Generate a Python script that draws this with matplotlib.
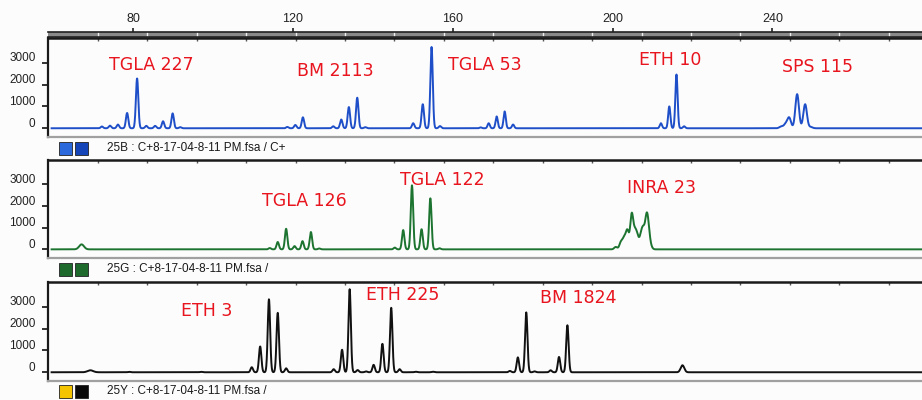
import numpy as np
import matplotlib
matplotlib.use("Agg")
import matplotlib.pyplot as plt
from matplotlib.patches import Rectangle
from matplotlib.transforms import ScaledTranslation

W, H = 922, 400

# x positions (bp) of the ruler labels
ruler_ticks = [80, 120, 160, 200, 240]
y_ticks = [0, 1000, 2000, 3000]

# blue dye (25B): peak sizes, heights, widths
blue_pos = [72.2, 74.2, 76.2, 78.5, 81.0, 83.3, 85.5, 87.5, 89.9, 91.8,
            118.6, 120.6, 122.5, 130.1, 132.1, 134.0, 136.1, 138.1,
            150.1, 152.5, 154.7, 156.8,
            167.0, 169.0, 171.0, 173.0, 175.1,
            212.1, 214.2, 216.0, 217.9,
            242.2, 243.3, 244.2, 246.2, 248.2, 249.6]
blue_h = [80, 120, 170, 700, 2280, 110, 110, 320, 680, 50,
          60, 150, 500, 90, 400, 970, 1400, 50,
          230, 1100, 3720, 100,
          40, 230, 540, 770, 170,
          230, 1000, 2460, 90,
          80, 180, 480, 1560, 1100, 60]
blue_w = [0.3] * 22 + [0.28] * 9 + [0.45] * 6

# green dye (25G)
green_pos = [67.1,
             114.2, 116.2, 118.3, 120.4, 122.4, 124.5, 126.6,
             145.5, 147.6, 149.8, 152.2, 154.4, 156.7,
             200.8, 202.1, 202.9, 203.7, 204.8, 205.6, 206.2, 207.1, 207.7,
             208.5, 209.0, 209.6]
green_h = [230,
           60, 340, 950, 150, 380, 800, 40,
           80, 890, 2960, 930, 2360, 50,
           110, 330, 500, 850, 1600, 700, 520, 560, 800,
           1300, 700, 100]
green_w = [0.6] + [0.3] * 13 + [0.38] * 12

# yellow dye (25Y), drawn in black
black_pos = [69.3, 79.0, 97.0,
             109.7, 111.8, 114.0, 116.2, 118.3,
             130.2, 132.3, 134.2, 136.2, 138.3, 140.2, 142.4, 144.6, 146.7,
             150.7, 155.0,
             174.3, 176.3, 178.4, 180.5, 184.5, 186.6, 188.7,
             217.5]
black_h = [90, 20, 20,
           230, 1180, 3340, 2720, 180,
           140, 1030, 3800, 100, 40, 340, 1300, 2950, 140,
           25, 25,
           60, 680, 2740, 40, 90, 700, 2150,
           320]
black_w = [0.7, 0.3, 0.3] + [0.3] * 23 + [0.45]

labels_blue = [("TGLA 227", 84.5, 2890), ("BM 2113", 130.6, 2610),
               ("TGLA 53", 168.0, 2890), ("ETH 10", 214.3, 3120),
               ("SPS 115", 251.2, 2800)]
labels_green = [("TGLA 126", 122.9, 2250), ("TGLA 122", 157.4, 3210),
                ("INRA 23", 212.3, 2840)]
labels_black = [("ETH 3", 98.3, 2820), ("ETH 225", 147.4, 3550),
                ("BM 1824", 191.5, 3400)]

file_name = "C+8-17-04-8-11 PM.fsa"

XMIN, XMAX = 58.7, 277.7
x = np.linspace(59.6, XMAX, 6000)


def trace(pos, h, w):
    y = np.zeros_like(x)
    for p, a, s in zip(pos, h, w):
        y += a * np.exp(-0.5 * ((x - p) / s) ** 2)
    return y


def box(left, top, right, bottom):
    return [left / W, 1 - bottom / H, (right - left) / W, (bottom - top) / H]


plt.rcParams['font.family'] = ['Liberation Sans', 'DejaVu Sans']

fig = plt.figure(figsize=(W / 100, H / 100), dpi=100)
fig.patch.set_facecolor('#fcfcfc')

sep = np.arange(71.2, XMAX, 12.37)

# top ruler
rul = fig.add_axes(box(48, 32, 923, 37))
rul.set_facecolor('#8a8a8a')
rul.set_xlim(XMIN, XMAX)
rul.set_ylim(0, 1)
for s in ['left', 'right']:
    rul.spines[s].set_visible(False)
for s in ['top', 'bottom']:
    rul.spines[s].set_color('#222222')
    rul.spines[s].set_linewidth(1.2)
for s in sep:
    rul.axvline(s, color='#eeeeee', lw=1.0)
rul.set_yticks([])
rul.xaxis.set_ticks_position('top')
rul.set_xticks(ruler_ticks)
rul.set_xticklabels([str(t) for t in ruler_ticks])
rul.tick_params(axis='x', direction='out', length=3, width=1.2, pad=2,
                labelsize=9, colors='#222222')

panels = [
    (box(48, 38, 923, 137), blue_pos, blue_h, blue_w, '#1f4fc8', labels_blue,
     ('#2a68dc', '#1444b8'), "25B : " + file_name + " / C+", 148),
    (box(48, 160, 923, 258), green_pos, green_h, green_w, '#1d7430', labels_green,
     ('#1e6a2c', '#1e6a2c'), "25G : " + file_name + " /", 269),
    (box(48, 282, 923, 381), black_pos, black_h, black_w, '#111111', labels_black,
     ('#f5c400', '#0a0a0a'), "25Y : " + file_name + " /", 391),
]

for rect, pos, h, w, col, labs, sq, name, ly in panels:
    ax = fig.add_axes(rect)
    ax.set_facecolor('none')
    ax.plot(x, trace(pos, h, w), color=col, lw=1.4, solid_joinstyle='round')
    ax.set_xlim(XMIN, XMAX)
    ax.set_ylim(-400, 4130)
    ax.spines['right'].set_visible(False)
    ax.spines['left'].set_linewidth(1.6)
    ax.spines['top'].set_linewidth(1.8)
    ax.spines['left'].set_color('#1a1a1a')
    ax.spines['top'].set_color('#1a1a1a')
    ax.spines['bottom'].set_color('#a0a0a0')
    ax.spines['bottom'].set_linewidth(1.6)
    ax.set_yticks(y_ticks)
    ax.set_yticklabels([str(t) for t in y_ticks])
    ax.tick_params(axis='y', direction='out', length=4, width=1.3, pad=5,
                   labelsize=8.5, colors='#222222')
    offset = ScaledTranslation(0, 0.06, fig.dpi_scale_trans)
    for t in ax.get_yticklabels():
        t.set_transform(t.get_transform() + offset)
    ax.xaxis.set_ticks_position('top')
    ax.set_xticks(sep)
    ax.set_xticklabels([])
    ax.tick_params(axis='x', direction='in', length=2, width=1, colors='#555555')

    for txt, tx, ty in labs:
        ax.text(tx, ty, txt, color='#e8141e', fontsize=12.5, ha='center',
                va='center', family='DejaVu Sans')

    # dye colour squares and file name under the panel
    for i, c in enumerate(sq):
        fig.add_artist(Rectangle(((59 + i * 16) / W, 1 - (ly + 6.5) / H),
                                 13 / W, 13 / H, transform=fig.transFigure,
                                 facecolor=c, edgecolor='#222222', lw=0.6))
    fig.text(107 / W, 1 - ly / H, name, fontsize=8.5, va='center',
             ha='left', color='#1a1a1a')

fig.savefig('out.png', dpi=100, facecolor=fig.get_facecolor())
